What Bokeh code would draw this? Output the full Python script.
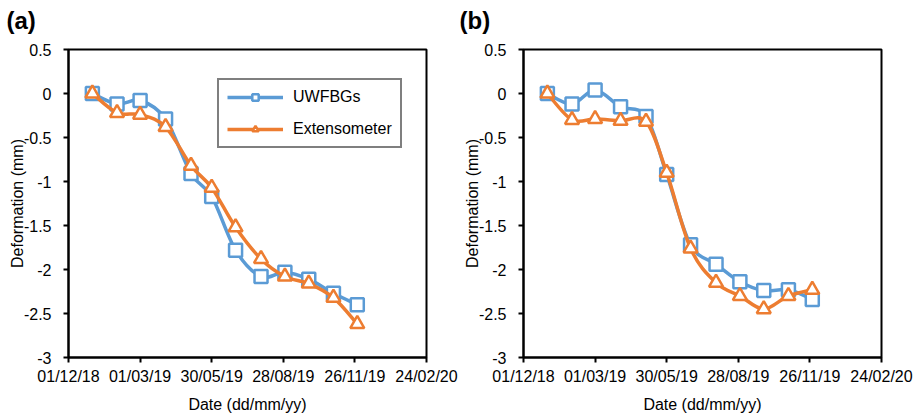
import numpy as np
from bokeh.plotting import figure
from bokeh.models import (FixedTicker, DatetimeTickFormatter, Range1d, Legend,
                          LegendItem, Label)
from bokeh.layouts import row, column
from bokeh.embed import file_html
from bokeh.resources import INLINE

# ---------------- data ----------------
dates = ["2018-12-31", "2019-01-31", "2019-03-01", "2019-04-02", "2019-05-04",
         "2019-05-30", "2019-06-29", "2019-07-31", "2019-08-30", "2019-09-29",
         "2019-10-30", "2019-11-29"]

a_uwfbg = [0.0, -0.12, -0.08, -0.29, -0.91, -1.17, -1.78, -2.08, -2.03, -2.11, -2.27, -2.40]
a_ext = [0.0, -0.22, -0.24, -0.38, -0.82, -1.07, -1.52, -1.88, -2.08, -2.16, -2.32, -2.62]
b_uwfbg = [0.0, -0.12, 0.04, -0.15, -0.26, -0.92, -1.72, -1.94, -2.14, -2.24, -2.23, -2.34]
b_ext = [0.0, -0.30, -0.29, -0.31, -0.32, -0.90, -1.76, -2.15, -2.30, -2.45, -2.30, -2.23]

x_ticks = ["2018-12-01", "2019-03-01", "2019-05-30", "2019-08-28", "2019-11-26", "2020-02-24"]
y_ticks = [0.5, 0.0, -0.5, -1.0, -1.5, -2.0, -2.5, -3.0]
y_tick_labels = ["0.5", "0", "-0.5", "-1", "-1.5", "-2", "-2.5", "-3"]

series_names = ["UWFBGs", "Extensometer"]
panel_tags = ["(a)", "(b)"]
BLUE = "#5B9BD5"
ORANGE = "#ED7D31"
FONT = "Liberation Sans"


def to_ms(ds):
    return np.array(ds, dtype="datetime64[ms]").astype(np.int64).astype(float)


def smooth_segments(xs, ys, t=1.0 / 6.0):
    X = np.asarray(xs, float)
    Y = np.asarray(ys, float)
    n = len(X)
    out = dict(x0=[], y0=[], x1=[], y1=[], cx0=[], cy0=[], cx1=[], cy1=[])
    for i in range(n - 1):
        im = i - 1 if i > 0 else i
        ip = i + 2 if i + 2 < n else i + 1
        out["x0"].append(X[i]); out["y0"].append(Y[i])
        out["x1"].append(X[i + 1]); out["y1"].append(Y[i + 1])
        out["cx0"].append(X[i] + (X[i + 1] - X[im]) * t)
        out["cy0"].append(Y[i] + (Y[i + 1] - Y[im]) * t)
        out["cx1"].append(X[i + 1] - (X[ip] - X[i]) * t)
        out["cy1"].append(Y[i + 1] - (Y[ip] - Y[i]) * t)
    return out


xd = to_ms(dates)
xt = to_ms(x_ticks)

HEAD = 40
TOP = 49 - HEAD
BOTTOM = 58
HEIGHT = 415 - HEAD


def make_panel(uw, ex, width, left, right, legend):
    p = figure(width=width, height=HEIGHT, output_backend="svg", toolbar_location=None,
               x_axis_type="datetime",
               x_range=Range1d(xt[0], xt[-1]), y_range=Range1d(-3.0, 0.5),
               min_border_left=left, min_border_right=right,
               min_border_top=TOP, min_border_bottom=BOTTOM)
    p.xgrid.visible = False
    p.ygrid.visible = False
    p.outline_line_color = "black"
    p.outline_line_width = 2
    p.background_fill_color = "white"
    p.border_fill_color = "white"

    for ax in (p.xaxis[0], p.yaxis[0]):
        ax.axis_line_color = "black"
        ax.axis_line_width = 2
        ax.major_tick_line_color = "black"
        ax.major_tick_line_width = 2
        ax.major_tick_out = 5
        ax.major_tick_in = 0
        ax.minor_tick_line_color = None
        ax.major_label_text_font = FONT
        ax.major_label_text_font_size = "16px"
        ax.major_label_text_color = "black"
        ax.axis_label_text_font = FONT
        ax.axis_label_text_font_size = "16px"
        ax.axis_label_text_font_style = "normal"
        ax.axis_label_text_color = "black"

    p.xaxis.ticker = FixedTicker(ticks=list(xt))
    fmt = "%d/%m/%y"
    p.xaxis.formatter = DatetimeTickFormatter(
        milliseconds=fmt, seconds=fmt, minsec=fmt, minutes=fmt, hourmin=fmt,
        hours=fmt, days=fmt, months=fmt, years=fmt)
    p.xaxis.major_label_standoff = 5
    p.xaxis.axis_label = "Date (dd/mm/yy)"
    p.xaxis.axis_label_standoff = 8

    p.yaxis.ticker = FixedTicker(ticks=y_ticks)
    p.yaxis.major_label_overrides = {v: s for v, s in zip(y_ticks, y_tick_labels)}
    p.yaxis.major_label_standoff = 12
    p.yaxis.axis_label = "Deformation (mm)"
    p.yaxis.axis_label_standoff = -5

    items = []
    for vals, color, marker, name in ((uw, BLUE, "square", series_names[0]),
                                      (ex, ORANGE, "triangle", series_names[1])):
        seg = smooth_segments(xd, vals)
        p.bezier(x0=seg["x0"], y0=seg["y0"], x1=seg["x1"], y1=seg["y1"],
                 cx0=seg["cx0"], cy0=seg["cy0"], cx1=seg["cx1"], cy1=seg["cy1"],
                 line_color=color, line_width=3.5, line_cap="round")
        dummy = p.line(x=[xd[0], xd[1]], y=[np.nan, np.nan], line_color=color, line_width=3.5)
        sc = p.scatter(x=xd, y=vals, marker=marker, size=13 if marker == "square" else 14,
                       line_color=color, line_width=2.5, fill_color="white")
        items.append(LegendItem(label=name, renderers=[dummy, sc]))

    if legend:
        lg = Legend(items=items, location=(149, 209), margin=0, padding=8,
                    spacing=14, glyph_width=56, glyph_height=16, label_height=16,
                    label_standoff=10, label_text_font=FONT,
                    label_text_font_size="16px", label_text_color="black",
                    border_line_color="black", border_line_width=2,
                    background_fill_color="white", background_fill_alpha=1.0)
        p.add_layout(lg, "center")
    return p


# header strip carrying the panel tags
head = figure(width=921, height=HEAD, output_backend="svg", toolbar_location=None,
              x_range=Range1d(0, 921), y_range=Range1d(0, HEAD),
              x_axis_location=None, y_axis_location=None, min_border=0)
head.xgrid.visible = False
head.ygrid.visible = False
head.outline_line_color = None
head.background_fill_color = "white"
head.border_fill_color = "white"
for tag, tx in zip(panel_tags, (6, 459)):
    head.add_layout(Label(x=tx, y=20, x_units="screen", y_units="screen",
                          text=tag, text_font=FONT, text_font_size="24px",
                          text_font_style="bold", text_color="black",
                          text_baseline="alphabetic", text_align="left"))

pa = make_panel(a_uwfbg, a_ext, 460, 68, 34, True)
pb = make_panel(b_uwfbg, b_ext, 461, 63, 40, False)

layout = column(head, row(pa, pb))
open("out.html", "w").write(file_html(layout, INLINE))
